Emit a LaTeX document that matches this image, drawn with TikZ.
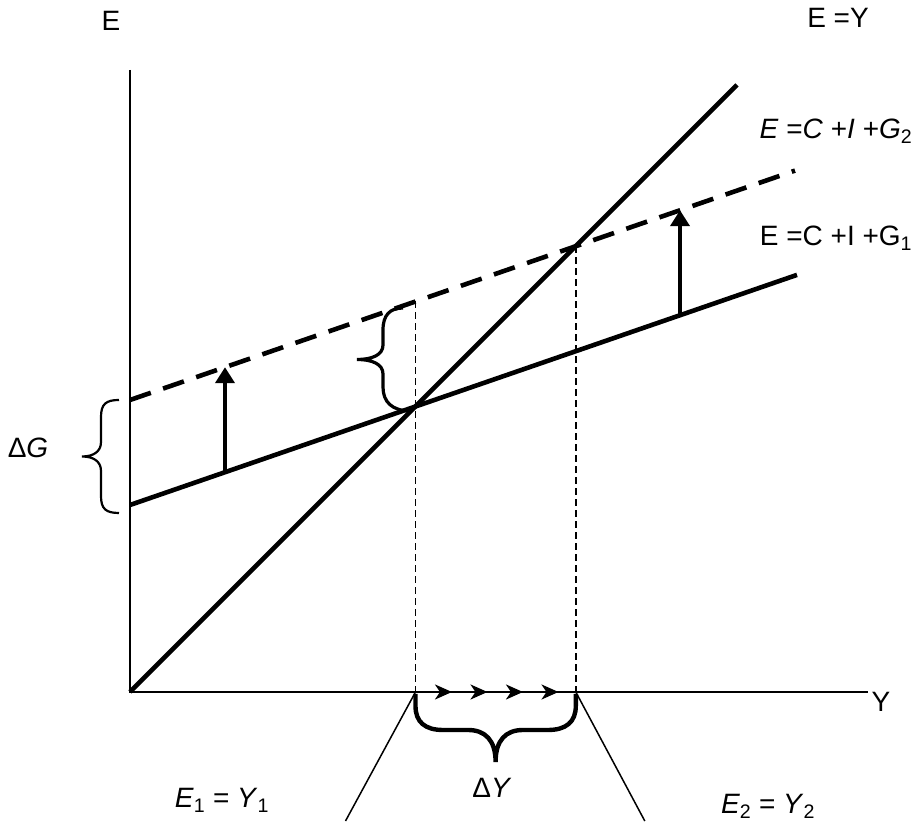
\documentclass[tikz,border=0pt]{standalone}
\usepackage{fontspec}
\setmainfont{Liberation Sans}
\usetikzlibrary{arrows.meta}

\begin{document}
\begin{tikzpicture}[
  x=1pt, y=1pt,
  every node/.style={font=\fontsize{28}{32}\selectfont, inner sep=0pt},
  axis/.style={line width=2.4pt},
  schedule/.style={line width=4.6pt},
  shifted/.style={line width=4.6pt, dash pattern=on 22pt off 13pt},
  guide/.style={line width=1.6pt, dash pattern=on 7pt off 4pt},
  shiftarrow/.style={line width=4.8pt, -{Triangle[length=16pt,width=19pt]}},
  flowtip/.style={line width=2.4pt, -{Stealth[length=17pt,width=15pt,inset=5pt]}},
  pointer/.style={line width=1.5pt},
  curly/.style={line width=#1}
]
\useasboundingbox (-130,-134) rectangle (789,692);

% axes
\coordinate (O) at (0,0);
\coordinate (ytop) at (0,622);
\coordinate (xend) at (738,0);
\draw[axis] (ytop) -- (O) -- (xend);
\node (elab) at (-19,671) {E};
\node (ylab) at (751,-10) {Y};

% schedules
\coordinate (eyend) at (607,607);
\coordinate (g1s) at (0,187);
\coordinate (g1e) at (667,417.1);
\coordinate (g2s) at (0,292);
\coordinate (g2e) at (665,521.4);
\draw[schedule] (O) -- (eyend);
\draw[schedule] (g1s) -- (g1e);
\draw[shifted] (g2s) -- (g2e);
\node (eqlab) at (708,674) {E =Y};
\node (g2lab) at (706,561) {\textit{E} =\textit{C} +\textit{I} +\textit{G}\textsubscript{2}};
\node (g1lab) at (706,454) {E =C +I +G\textsubscript{1}};

% equilibria
\coordinate (A) at (285.5,285.5);
\coordinate (Atop) at (285.5,390.5);
\coordinate (Abot) at (285.5,0);
\coordinate (B) at (445.8,445.8);
\coordinate (Bbot) at (445.8,0);
\draw[guide] (Atop) -- (Abot);
\draw[guide] (B) -- (Bbot);

% upward shifts
\coordinate (s1a) at (95,219.8);
\coordinate (s1b) at (95,324.8);
\coordinate (s2a) at (550,376.8);
\coordinate (s2b) at (550,481.8);
\draw[shiftarrow] (s1a) -- (s1b);
\draw[shiftarrow] (s2a) -- (s2b);

% movement along Y
\foreach \x in {322,357.5,393,428.5}
  \draw[flowtip] (\x-20,0) -- (\x,0);

% braces
\draw[curly=2.2pt] (-11,179) .. controls (-24,179) and (-29,183) .. (-29,196)
  -- (-29,221) .. controls (-29,231) and (-37,235.5) .. (-48,235.5)
  .. controls (-37,235.5) and (-29,240) .. (-29,250)
  -- (-29,275) .. controls (-29,288) and (-24,292) .. (-11,292);
\node (dglab) at (-102,244) {Δ\textit{G}};

\draw[curly=3.2pt] (281,281) .. controls (262,281) and (253,290) .. (253,305)
  -- (253,318) .. controls (253,328) and (242,332.5) .. (227,332.5)
  .. controls (242,332.5) and (253,337) .. (253,347)
  -- (253,362) .. controls (253,377) and (260,384) .. (273,384);

\draw[curly=4.4pt] (285.5,-2) -- (285.5,-14) .. controls (285.5,-30) and (295,-38) .. (313,-38)
  -- (338,-38) .. controls (355,-38) and (365.6,-48) .. (365.6,-70)
  .. controls (365.6,-48) and (376,-38) .. (393,-38)
  -- (418,-38) .. controls (436,-38) and (445.8,-30) .. (445.8,-14) -- (445.8,-2);
\node (dylab) at (362,-96) {Δ\textit{Y}};

% equilibrium labels
\coordinate (p1) at (215.5,-129);
\coordinate (p2) at (514.8,-129);
\draw[pointer] (Abot) -- (p1);
\draw[pointer] (Bbot) -- (p2);
\node (e1lab) at (92,-108) {\textit{E}\textsubscript{1} = \textit{Y}\textsubscript{1}};
\node (e2lab) at (638,-114) {\textit{E}\textsubscript{2} = \textit{Y}\textsubscript{2}};
\end{tikzpicture}
\end{document}
